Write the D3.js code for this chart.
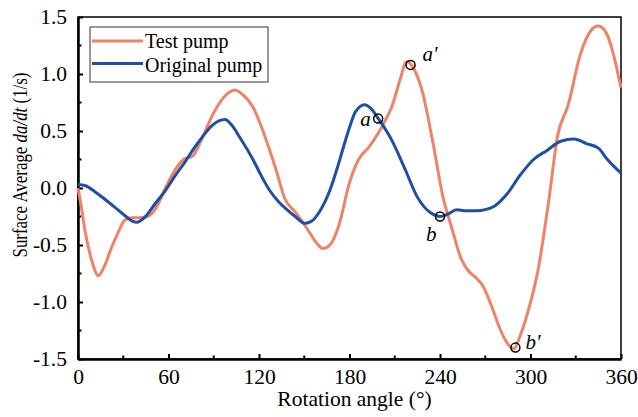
<!DOCTYPE html>
<html>
<head>
<meta charset="utf-8">
<script src="https://cdn.jsdelivr.net/npm/d3@7"></script>
<style>
  body { margin: 0; background: #fff; }
  svg text { font-family: "Liberation Serif", "Times New Roman", Times, serif !important; fill: #000; }
</style>
</head>
<body>
<svg id="chart" width="638" height="417"></svg>
<script>
// data
const testAngle = [0, 2, 5, 9, 13.5, 17, 22, 27, 31, 36, 41, 46, 52, 58, 64, 70, 76, 82, 90, 97, 104, 110, 116, 124, 132, 137, 144, 149, 154, 158, 162.5, 167, 174, 179, 186, 193, 199, 204, 208, 213.5, 218, 222, 228, 235, 242, 248, 254, 259, 264, 268.5, 274, 279.6, 284, 289, 293, 298, 305, 312, 318, 325, 333, 340, 345, 351, 355, 360];
const testValue = [0.0, -0.15, -0.40, -0.63, -0.77, -0.70, -0.53, -0.38, -0.28, -0.26, -0.26, -0.25, -0.17, 0.0, 0.15, 0.25, 0.28, 0.43, 0.66, 0.80, 0.86, 0.81, 0.71, 0.45, 0.13, -0.09, -0.21, -0.30, -0.40, -0.48, -0.53, -0.50, -0.28, 0.0, 0.25, 0.36, 0.48, 0.60, 0.71, 0.95, 1.11, 1.06, 0.86, 0.42, -0.08, -0.36, -0.62, -0.73, -0.79, -0.86, -1.03, -1.23, -1.35, -1.41, -1.30, -1.10, -0.72, -0.12, 0.46, 0.73, 1.17, 1.38, 1.42, 1.34, 1.17, 0.88];

const origAngle = [0, 5, 11, 17, 24.5, 30, 36, 39, 44, 51, 58, 64, 71, 77, 82, 89, 97.5, 102, 107, 116, 121, 127, 133, 138.5, 144, 150.5, 155, 160, 167, 172, 176, 180, 184, 190, 194, 199, 208, 217, 225, 234, 240, 245, 251, 257, 264, 270, 276, 284, 293, 302, 311, 320, 329, 337, 345, 351, 360];
const origValue = [0.03, 0.02, -0.03, -0.09, -0.17, -0.23, -0.29, -0.30, -0.26, -0.14, -0.02, 0.10, 0.23, 0.35, 0.44, 0.55, 0.60, 0.55, 0.45, 0.25, 0.12, -0.02, -0.12, -0.19, -0.25, -0.31, -0.29, -0.21, -0.02, 0.18, 0.36, 0.53, 0.67, 0.73, 0.70, 0.61, 0.42, 0.16, -0.08, -0.22, -0.25, -0.23, -0.19, -0.20, -0.20, -0.19, -0.16, -0.06, 0.11, 0.25, 0.33, 0.41, 0.43, 0.39, 0.35, 0.25, 0.13];

// marked points a, a', b, b'
const markName = ["a", "a\u2032", "b", "b\u2032"];
const markAngle = [199, 220.5, 240, 290];
const markValue = [0.61, 1.08, -0.25, -1.40];

const xTicks = [0, 60, 120, 180, 240, 300, 360];
const yTicks = [-1.5, -1.0, -0.5, 0.0, 0.5, 1.0, 1.5];
const seriesNames = ["Test pump", "Original pump"];

const orange = "#f08268";
const blue = "#1f4fa5";

const margin = {top: 17, right: 17, bottom: 58, left: 78};
const fullWidth = 638, fullHeight = 417;
const width = fullWidth - margin.left - margin.right;
const height = fullHeight - margin.top - margin.bottom;

const svg = d3.select("#chart");
const g = svg.append("g").attr("transform", "translate(" + margin.left + "," + margin.top + ")");

const x = d3.scaleLinear().domain([0, 360]).range([0, width]);
const y = d3.scaleLinear().domain([-1.5, 1.5]).range([height, 0]);

// frame
g.append("rect")
  .attr("width", width).attr("height", height)
  .attr("fill", "none").attr("stroke", "#000").attr("stroke-width", 1.5);

// minor ticks (inward)
g.append("g").selectAll("line")
  .data(d3.range(30, 360, 60))
  .join("line")
  .attr("x1", d => x(d)).attr("x2", d => x(d))
  .attr("y1", height).attr("y2", height - 3.5)
  .attr("stroke", "#000").attr("stroke-width", 2);
g.append("g").selectAll("line")
  .data(d3.range(-1.25, 1.5, 0.5))
  .join("line")
  .attr("y1", d => y(d)).attr("y2", d => y(d))
  .attr("x1", 0).attr("x2", 3.5)
  .attr("stroke", "#000").attr("stroke-width", 2);

// axes
const xAxis = d3.axisBottom(x).tickValues(xTicks).tickSizeInner(-5).tickSizeOuter(0).tickPadding(10)
  .tickFormat(d3.format("d"));
const gx = g.append("g").attr("transform", "translate(0," + height + ")").call(xAxis);
const yAxis = d3.axisLeft(y).tickValues(yTicks).tickSizeInner(-5).tickSizeOuter(0).tickPadding(11)
  .tickFormat(d => d3.format(".1f")(d).replace("\u2212", "-"));
const gy = g.append("g").call(yAxis);

[gx, gy].forEach(a => {
  a.select(".domain").attr("stroke-width", 2.5);
  a.selectAll(".tick line").attr("stroke-width", 2);
  a.selectAll("text").attr("font-size", 21.5);
});

// lines
const line = d3.line()
  .x(d => x(d[0]))
  .y(d => y(d[1]))
  .curve(d3.curveMonotoneX);

g.append("path")
  .datum(testAngle.map((a, i) => [a, testValue[i]]))
  .attr("d", line).attr("fill", "none")
  .attr("stroke", orange).attr("stroke-width", 3);

g.append("path")
  .datum(origAngle.map((a, i) => [a, origValue[i]]))
  .attr("d", line).attr("fill", "none")
  .attr("stroke", blue).attr("stroke-width", 3);

// marked points
g.selectAll("circle.mark")
  .data(markAngle)
  .join("circle")
  .attr("class", "mark")
  .attr("cx", d => x(d)).attr("cy", (d, i) => y(markValue[i]))
  .attr("r", 4.5).attr("fill", "none").attr("stroke", "#000").attr("stroke-width", 1.5);

const labelOffset = [[-18, 8], [12, -4], [-14, 24], [10, 1]];
g.selectAll("text.mark")
  .data(markName)
  .join("text")
  .attr("class", "mark")
  .attr("x", (d, i) => x(markAngle[i]) + labelOffset[i][0])
  .attr("y", (d, i) => y(markValue[i]) + labelOffset[i][1])
  .attr("font-size", 21).attr("font-style", "italic")
  .text(d => d);

// legend
const legend = g.append("g").attr("transform", "translate(12,10)");
legend.append("rect")
  .attr("width", 178).attr("height", 55)
  .attr("fill", "#fff").attr("stroke", "#333").attr("stroke-width", 1);
[orange, blue].forEach((c, i) => {
  legend.append("line")
    .attr("x1", 2).attr("x2", 53)
    .attr("y1", 14 + i * 22.5).attr("y2", 14 + i * 22.5)
    .attr("stroke", c).attr("stroke-width", 3);
  legend.append("text")
    .attr("x", 55).attr("y", 21 + i * 24)
    .attr("font-size", 20)
    .text(seriesNames[i]);
});

// axis titles
svg.append("text")
  .attr("x", margin.left + width / 2 + 5).attr("y", 406)
  .attr("text-anchor", "middle").attr("font-size", 21.5)
  .text("Rotation angle (\u00b0)");

const yt = svg.append("text")
  .attr("transform", "translate(27,165) rotate(-90)")
  .attr("text-anchor", "middle").attr("font-size", 22)
  .attr("textLength", 185).attr("lengthAdjust", "spacingAndGlyphs");
yt.append("tspan").text("Surface Average ");
yt.append("tspan").attr("font-style", "italic").text("da/dt");
yt.append("tspan").text(" (1/s)");
</script>
</body>
</html>
